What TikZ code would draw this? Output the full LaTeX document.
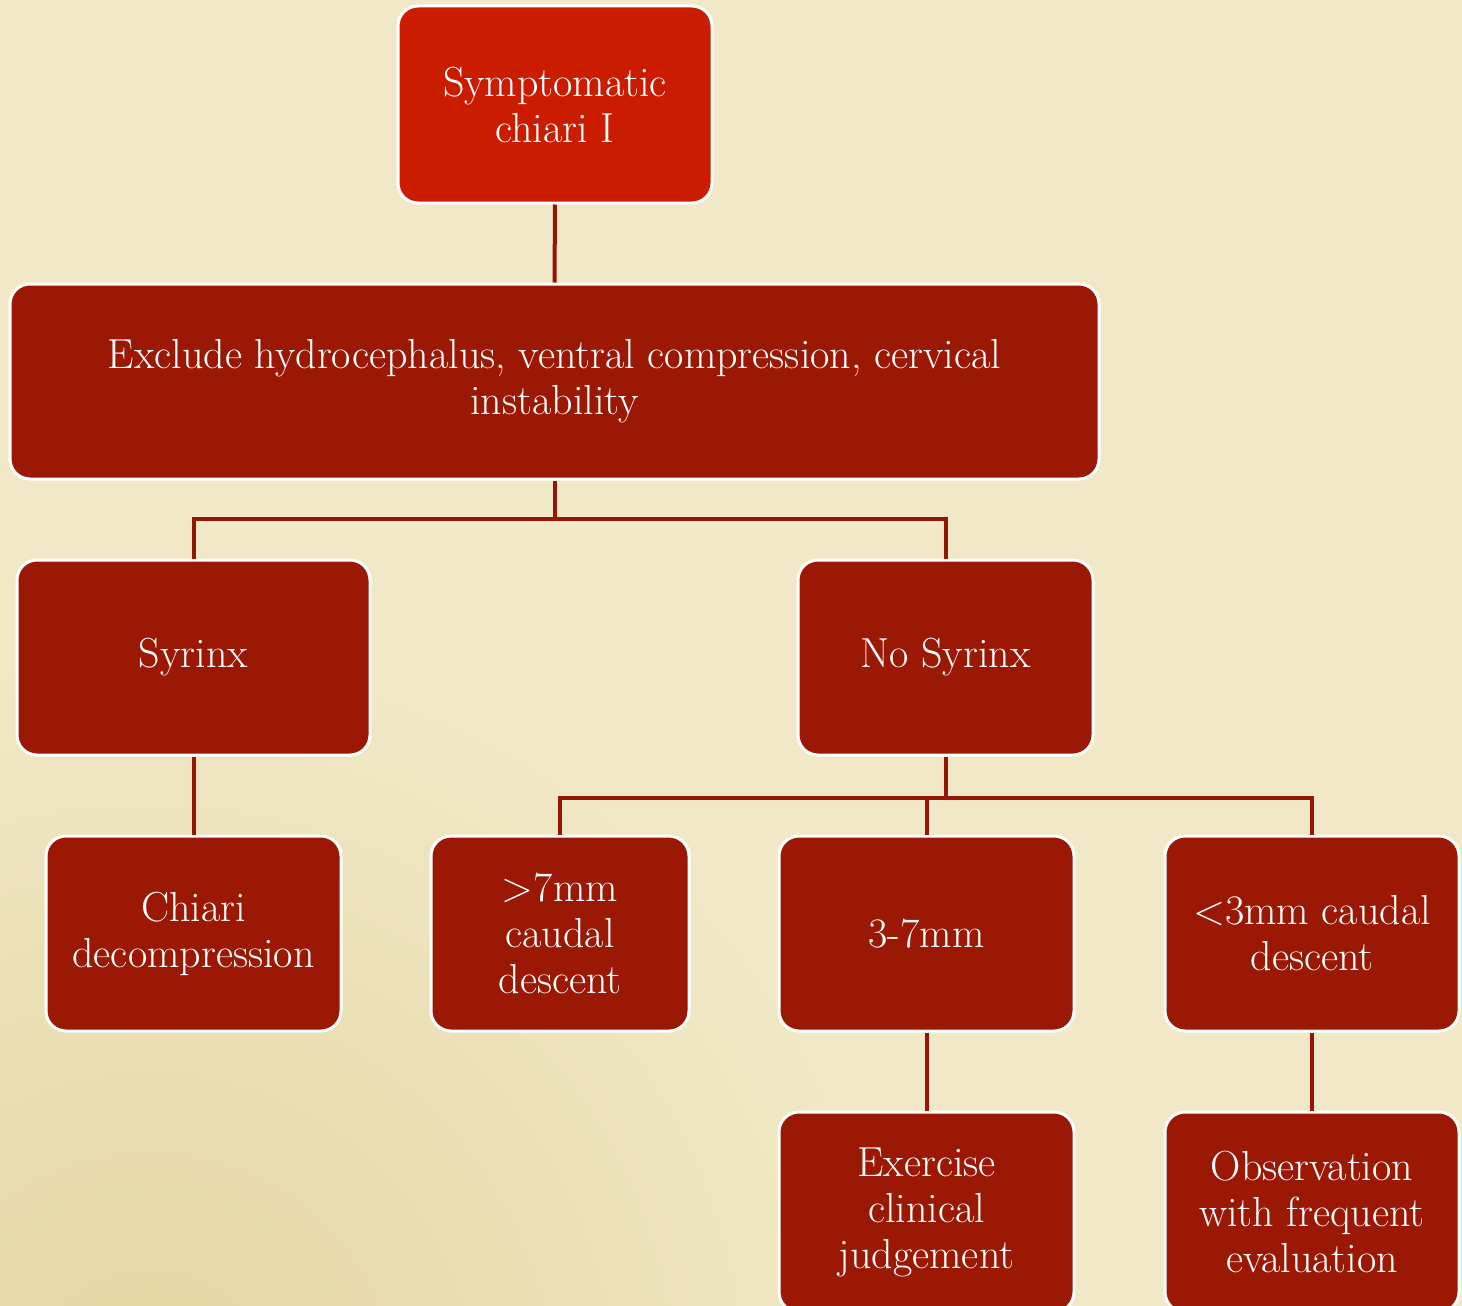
\documentclass[tikz,border=0pt]{standalone}
\usetikzlibrary{calc}
\definecolor{paper}{RGB}{240,232,198}
\definecolor{paperdark}{RGB}{228,212,160}
\definecolor{boxred}{RGB}{155,24,5}
\definecolor{topred}{RGB}{204,28,0}
\definecolor{linkred}{RGB}{150,22,5}
\tikzset{
  fbox/.style={draw=white, line width=3pt, rounded corners=20pt, fill=boxred,
    text=white, align=center, inner sep=0pt,
    font=\fontsize{42}{46}\selectfont},
  link/.style={draw=linkred, line width=4pt}
}
\begin{document}
\begin{tikzpicture}[x=1pt,y=-1pt]
\useasboundingbox (0,0) rectangle (1462,1306);
\clip (0,0) rectangle (1462,1306);
\fill[paper] (0,0) rectangle (1462,1306);
\shade[inner color=paperdark, outer color=paper] (150,1400) circle (750pt);

\node[fbox, fill=topred, minimum width=314pt, minimum height=197pt] (top) at (555,104.5) {Symptomatic\\chiari I};
\node[fbox, minimum width=1089pt, minimum height=195pt] (excl) at (554.5,381.5) {Exclude hydrocephalus, ventral compression, cervical\\instability};
\node[fbox, minimum width=353pt, minimum height=195pt] (syr) at (193.5,657.5) {Syrinx};
\node[fbox, minimum width=295pt, minimum height=195pt] (nosyr) at (945.5,657.5) {No Syrinx};
\node[fbox, minimum width=295pt, minimum height=195pt] (chiari) at (193.5,933.5) {Chiari\\decompression};
\node[fbox, minimum width=258pt, minimum height=195pt] (gt7) at (560,933.5) {>7mm\\caudal\\descent};
\node[fbox, minimum width=295pt, minimum height=195pt] (mid) at (926.5,933.5) {3-7mm};
\node[fbox, minimum width=294pt, minimum height=195pt] (lt3) at (1312,933.5) {<3mm caudal\\descent};
\node[fbox, minimum width=295pt, minimum height=200pt] (exer) at (926.5,1212) {Exercise\\clinical\\judgement};
\node[fbox, minimum width=294pt, minimum height=200pt] (obs) at (1312,1212) {Observation\\with frequent\\evaluation};

\draw[link] (top.south) -- (excl.north);
\draw[link] (excl.south) -- ++(0,38.5) coordinate (j1);
\draw[link] (j1) -| (syr.north);
\draw[link] (j1) -| (nosyr.north);
\draw[link] (syr.south) -- (chiari.north);
\draw[link] (nosyr.south) -- ++(0,41) coordinate (j2);
\draw[link] (j2) -| (gt7.north);
\draw[link] (j2) -| (lt3.north);
\draw[link] (j2 -| mid.north) -- (mid.north);
\draw[link] (mid.south) -- (exer.north);
\draw[link] (lt3.south) -- (obs.north);
\end{tikzpicture}
\end{document}
